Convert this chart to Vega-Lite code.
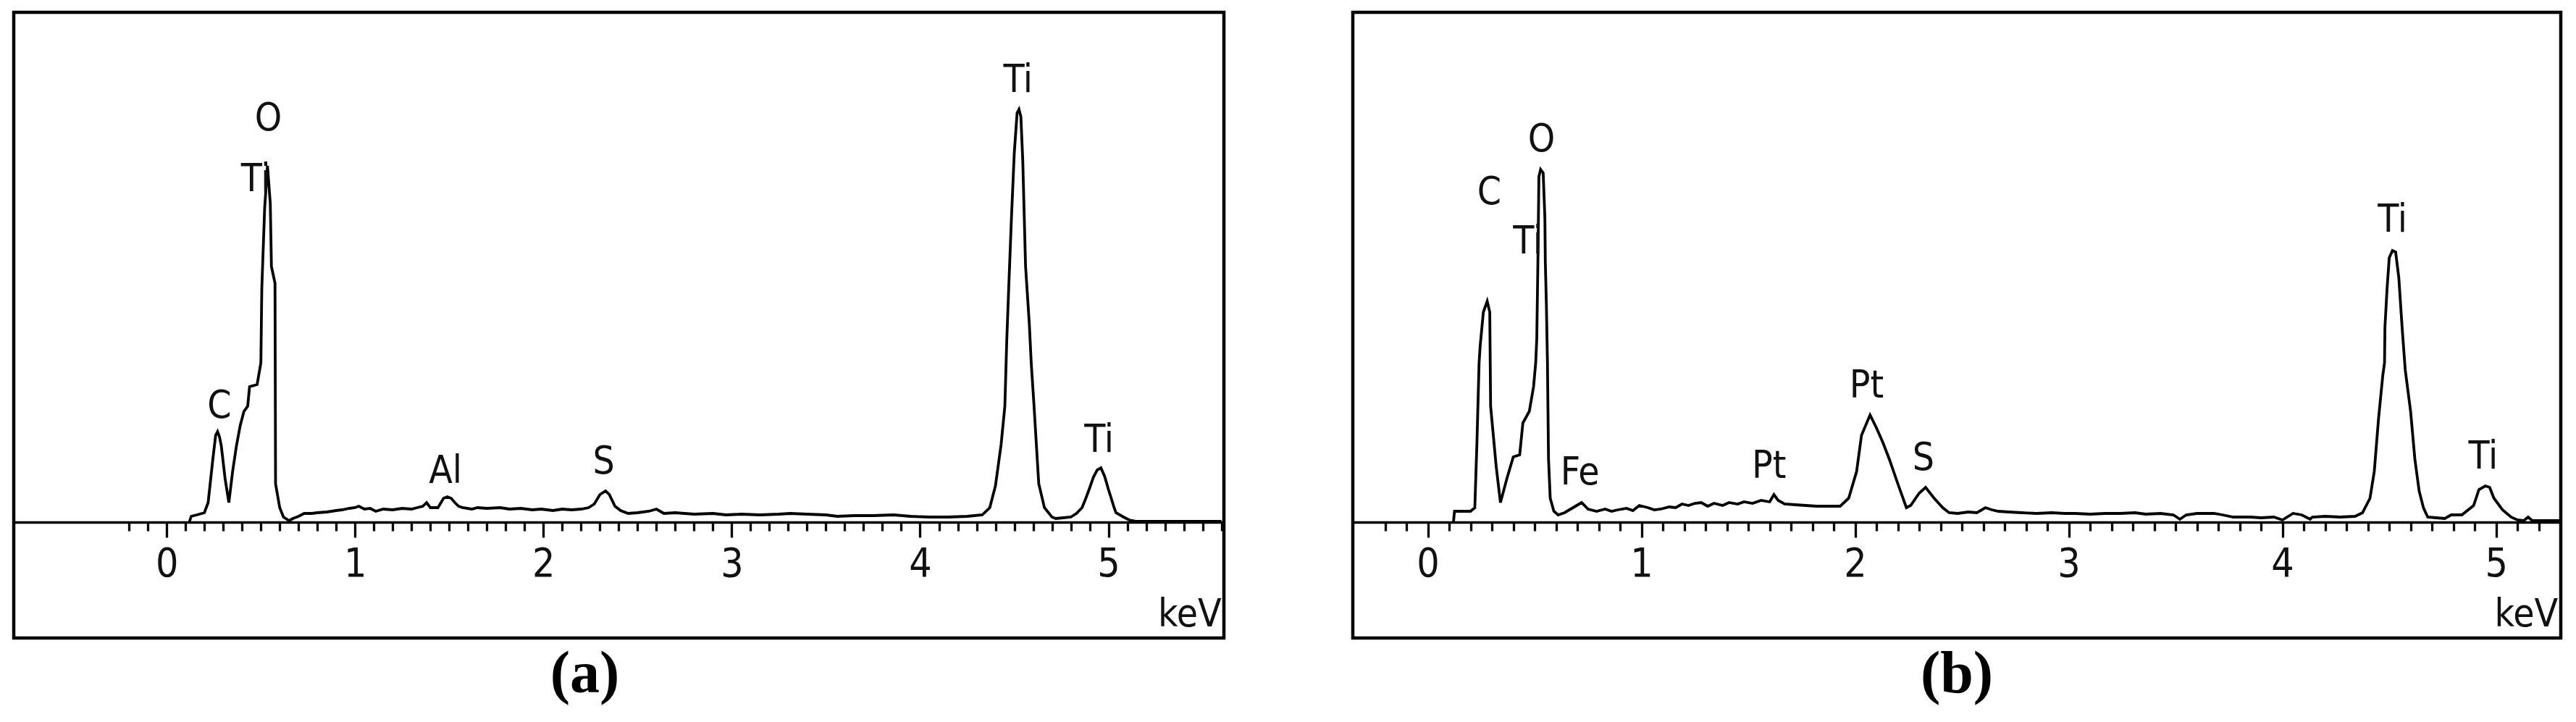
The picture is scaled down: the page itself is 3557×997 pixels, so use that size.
{
  "$schema": "https://vega.github.io/schema/vega-lite/v6.json",
  "background": "white",
  "padding": {"left": 16, "top": 14, "right": 0, "bottom": 0},
  "spacing": 168,
  "config": {
    "view": {"stroke": "#000", "strokeWidth": 4.5},
    "text": {"font": "DejaVu Sans Condensed, Liberation Sans", "fontSize": 53, "color": "#111"}
  },
  "datasets": {
    "specA": [
      {"e":0.12,"c":0},{"e":0.13,"c":8},{"e":0.16,"c":10},{"e":0.2,"c":13},{"e":0.22,"c":27},{"e":0.245,"c":87},{"e":0.26,"c":120},{"e":0.27,"c":125},{"e":0.28,"c":118},{"e":0.29,"c":105},{"e":0.31,"c":60},{"e":0.33,"c":27},{"e":0.35,"c":70},{"e":0.37,"c":105},{"e":0.39,"c":133},{"e":0.41,"c":153},{"e":0.43,"c":160},{"e":0.44,"c":187},{"e":0.48,"c":190},{"e":0.5,"c":220},{"e":0.505,"c":323},{"e":0.52,"c":433},{"e":0.535,"c":492},{"e":0.55,"c":440},{"e":0.556,"c":353},{"e":0.575,"c":330},{"e":0.578,"c":53},{"e":0.6,"c":20},{"e":0.62,"c":7},{"e":0.65,"c":2},{"e":0.67,"c":5},{"e":0.7,"c":8},{"e":0.73,"c":12},{"e":0.77,"c":12},{"e":0.8,"c":13},{"e":0.85,"c":14},{"e":0.9,"c":16},{"e":0.93,"c":17},{"e":0.97,"c":19},{"e":1.0,"c":20},{"e":1.02,"c":22},{"e":1.05,"c":18},{"e":1.08,"c":19},{"e":1.11,"c":15},{"e":1.15,"c":18},{"e":1.2,"c":17},{"e":1.25,"c":19},{"e":1.3,"c":18},{"e":1.33,"c":20},{"e":1.36,"c":22},{"e":1.38,"c":27},{"e":1.4,"c":20},{"e":1.44,"c":20},{"e":1.47,"c":33},{"e":1.49,"c":35},{"e":1.51,"c":33},{"e":1.53,"c":27},{"e":1.55,"c":22},{"e":1.57,"c":20},{"e":1.62,"c":18},{"e":1.65,"c":20},{"e":1.7,"c":19},{"e":1.77,"c":20},{"e":1.82,"c":18},{"e":1.88,"c":19},{"e":1.94,"c":17},{"e":1.99,"c":18},{"e":2.05,"c":16},{"e":2.1,"c":18},{"e":2.15,"c":17},{"e":2.2,"c":18},{"e":2.24,"c":20},{"e":2.27,"c":25},{"e":2.3,"c":38},{"e":2.33,"c":43},{"e":2.35,"c":38},{"e":2.38,"c":22},{"e":2.41,"c":16},{"e":2.45,"c":12},{"e":2.5,"c":13},{"e":2.56,"c":15},{"e":2.6,"c":18},{"e":2.64,"c":12},{"e":2.7,"c":13},{"e":2.8,"c":11},{"e":2.9,"c":12},{"e":2.97,"c":10},{"e":3.05,"c":11},{"e":3.15,"c":10},{"e":3.25,"c":11},{"e":3.31,"c":12},{"e":3.4,"c":11},{"e":3.5,"c":10},{"e":3.56,"c":8},{"e":3.65,"c":9},{"e":3.75,"c":9},{"e":3.86,"c":10},{"e":3.95,"c":8},{"e":4.05,"c":7},{"e":4.15,"c":7},{"e":4.25,"c":8},{"e":4.33,"c":10},{"e":4.37,"c":20},{"e":4.4,"c":50},{"e":4.43,"c":107},{"e":4.45,"c":160},{"e":4.46,"c":250},{"e":4.47,"c":320},{"e":4.485,"c":420},{"e":4.5,"c":510},{"e":4.515,"c":565},{"e":4.525,"c":570},{"e":4.535,"c":560},{"e":4.545,"c":500},{"e":4.56,"c":353},{"e":4.58,"c":273},{"e":4.59,"c":220},{"e":4.605,"c":160},{"e":4.615,"c":117},{"e":4.63,"c":53},{"e":4.66,"c":20},{"e":4.7,"c":7},{"e":4.72,"c":5},{"e":4.76,"c":6},{"e":4.8,"c":7},{"e":4.83,"c":12},{"e":4.86,"c":20},{"e":4.88,"c":33},{"e":4.9,"c":47},{"e":4.92,"c":62},{"e":4.94,"c":72},{"e":4.96,"c":75},{"e":4.98,"c":63},{"e":5.0,"c":45},{"e":5.01,"c":37},{"e":5.03,"c":20},{"e":5.04,"c":13},{"e":5.08,"c":7},{"e":5.11,"c":3},{"e":5.15,"c":1},{"e":5.3,"c":1},{"e":5.45,"c":1},{"e":5.6,"c":1}
    ],
    "specB": [
      {"e":0.12,"c":0},{"e":0.125,"c":15},{"e":0.2,"c":15},{"e":0.22,"c":20},{"e":0.23,"c":110},{"e":0.24,"c":220},{"e":0.245,"c":243},{"e":0.26,"c":290},{"e":0.278,"c":305},{"e":0.29,"c":290},{"e":0.294,"c":160},{"e":0.32,"c":77},{"e":0.34,"c":27},{"e":0.37,"c":60},{"e":0.4,"c":90},{"e":0.43,"c":93},{"e":0.445,"c":137},{"e":0.475,"c":153},{"e":0.495,"c":187},{"e":0.505,"c":220},{"e":0.51,"c":253},{"e":0.515,"c":353},{"e":0.52,"c":477},{"e":0.528,"c":487},{"e":0.54,"c":482},{"e":0.548,"c":420},{"e":0.55,"c":360},{"e":0.555,"c":300},{"e":0.56,"c":220},{"e":0.565,"c":87},{"e":0.573,"c":33},{"e":0.59,"c":15},{"e":0.61,"c":10},{"e":0.64,"c":13},{"e":0.68,"c":20},{"e":0.72,"c":27},{"e":0.75,"c":18},{"e":0.79,"c":15},{"e":0.83,"c":18},{"e":0.86,"c":15},{"e":0.89,"c":17},{"e":0.93,"c":19},{"e":0.96,"c":16},{"e":0.99,"c":23},{"e":1.03,"c":20},{"e":1.06,"c":17},{"e":1.09,"c":18},{"e":1.13,"c":21},{"e":1.16,"c":20},{"e":1.19,"c":25},{"e":1.22,"c":23},{"e":1.25,"c":26},{"e":1.28,"c":27},{"e":1.31,"c":22},{"e":1.34,"c":26},{"e":1.38,"c":23},{"e":1.41,"c":27},{"e":1.45,"c":25},{"e":1.48,"c":28},{"e":1.52,"c":26},{"e":1.56,"c":30},{"e":1.6,"c":28},{"e":1.62,"c":38},{"e":1.64,"c":30},{"e":1.67,"c":25},{"e":1.72,"c":24},{"e":1.77,"c":23},{"e":1.82,"c":22},{"e":1.87,"c":22},{"e":1.93,"c":22},{"e":1.97,"c":33},{"e":2.007,"c":70},{"e":2.03,"c":120},{"e":2.07,"c":148},{"e":2.1,"c":130},{"e":2.13,"c":110},{"e":2.16,"c":87},{"e":2.2,"c":53},{"e":2.24,"c":20},{"e":2.26,"c":23},{"e":2.3,"c":40},{"e":2.33,"c":48},{"e":2.37,"c":33},{"e":2.41,"c":20},{"e":2.44,"c":13},{"e":2.48,"c":12},{"e":2.53,"c":14},{"e":2.57,"c":13},{"e":2.61,"c":20},{"e":2.64,"c":17},{"e":2.67,"c":15},{"e":2.72,"c":14},{"e":2.78,"c":13},{"e":2.85,"c":12},{"e":2.92,"c":13},{"e":2.98,"c":12},{"e":3.03,"c":12},{"e":3.1,"c":11},{"e":3.17,"c":12},{"e":3.24,"c":12},{"e":3.31,"c":13},{"e":3.36,"c":11},{"e":3.43,"c":12},{"e":3.49,"c":10},{"e":3.52,"c":4},{"e":3.55,"c":10},{"e":3.6,"c":12},{"e":3.68,"c":12},{"e":3.72,"c":10},{"e":3.77,"c":7},{"e":3.85,"c":7},{"e":3.9,"c":6},{"e":3.96,"c":7},{"e":4.0,"c":3},{"e":4.05,"c":12},{"e":4.09,"c":10},{"e":4.13,"c":4},{"e":4.14,"c":7},{"e":4.2,"c":8},{"e":4.27,"c":7},{"e":4.34,"c":8},{"e":4.375,"c":13},{"e":4.41,"c":33},{"e":4.43,"c":70},{"e":4.45,"c":143},{"e":4.47,"c":203},{"e":4.478,"c":220},{"e":4.48,"c":270},{"e":4.49,"c":323},{"e":4.5,"c":365},{"e":4.515,"c":375},{"e":4.53,"c":373},{"e":4.545,"c":337},{"e":4.56,"c":270},{"e":4.575,"c":210},{"e":4.6,"c":153},{"e":4.62,"c":87},{"e":4.64,"c":43},{"e":4.66,"c":20},{"e":4.68,"c":7},{"e":4.72,"c":6},{"e":4.76,"c":5},{"e":4.79,"c":10},{"e":4.84,"c":10},{"e":4.895,"c":23},{"e":4.92,"c":45},{"e":4.95,"c":50},{"e":4.97,"c":48},{"e":4.99,"c":33},{"e":5.03,"c":17},{"e":5.07,"c":7},{"e":5.1,"c":3},{"e":5.13,"c":2},{"e":5.15,"c":7},{"e":5.17,"c":2},{"e":5.2,"c":2},{"e":5.3,"c":2}
    ],
    "labA": [
      {"e":0.54,"c":557,"t":"O"},{"e":0.473,"c":473,"t":"Ti"},{"e":0.28,"c":160,"t":"C"},{"e":1.48,"c":70,"t":"Al"},{"e":2.32,"c":83,"t":"S"},{"e":4.52,"c":610,"t":"Ti"},{"e":4.95,"c":113,"t":"Ti"}
    ],
    "labB": [
      {"e":0.532,"c":528,"t":"O"},{"e":0.468,"c":387,"t":"Ti"},{"e":0.288,"c":455,"t":"C"},{"e":0.712,"c":68,"t":"Fe"},{"e":1.597,"c":77,"t":"Pt"},{"e":2.054,"c":188,"t":"Pt"},{"e":2.32,"c":88,"t":"S"},{"e":4.515,"c":417,"t":"Ti"},{"e":4.94,"c":90,"t":"Ti"}
    ],
    "unitA": [{"e":5.6,"c":-128,"t":"keV"}],
    "unitB": [{"e":5.29,"c":-128,"t":"keV"}]
  },
  "hconcat": [
    {
      "width": 1671,
      "height": 864,
      "title": {"text": "(a)", "orient": "bottom", "anchor": "middle", "dx": -47, "offset": 10, "font": "Liberation Serif", "fontSize": 82, "fontWeight": "bold", "color": "#000"},
      "encoding": {
        "x": {"field": "e", "type": "quantitative",
          "scale": {"domain": [-0.812, 5.613], "nice": false, "zero": false},
          "axis": {"title": null, "orient": "bottom", "offset": -160, "grid": false,
            "values": [-0.2,-0.1,0,0.1,0.2,0.3,0.4,0.5,0.6,0.7,0.8,0.9,1,1.1,1.2,1.3,1.4,1.5,1.6,1.7,1.8,1.9,2,2.1,2.2,2.3,2.4,2.5,2.6,2.7,2.8,2.9,3,3.1,3.2,3.3,3.4,3.5,3.6,3.7,3.8,3.9,4,4.1,4.2,4.3,4.4,4.5,4.6,4.7,4.8,4.9,5,5.1,5.2,5.3,5.4,5.5,5.6],
            "labelExpr": "abs(datum.value - round(datum.value)) < 0.001 ? format(datum.value, 'd') : ''",
            "tickSize": {"condition": {"test": "abs(datum.value - round(datum.value)) < 0.001", "value": 21}, "value": 12},
            "tickWidth": 3.3, "tickColor": "#000", "domainColor": "#000", "domainWidth": 3.5,
            "labelFont": "DejaVu Sans Condensed, Liberation Sans", "labelFontSize": 55, "labelColor": "#111",
            "labelPadding": 10, "labelOverlap": false, "labelFlush": false, "labelBound": false}},
        "y": {"field": "c", "type": "quantitative", "scale": {"domain": [-160, 704], "nice": false, "zero": false}, "axis": null}
      },
      "layer": [
        {"data": {"name": "specA"}, "mark": {"type": "line", "color": "#000", "strokeWidth": 3.8, "strokeJoin": "miter"}},
        {"data": {"name": "labA"}, "mark": {"type": "text", "align": "center", "baseline": "middle"}, "encoding": {"text": {"field": "t"}}},
        {"data": {"name": "unitA"}, "mark": {"type": "text", "align": "right", "baseline": "middle"}, "encoding": {"text": {"field": "t"}}}
      ]
    },
    {
      "width": 1668,
      "height": 864,
      "title": {"text": "(b)", "orient": "bottom", "anchor": "middle", "offset": 10, "font": "Liberation Serif", "fontSize": 82, "fontWeight": "bold", "color": "#000"},
      "encoding": {
        "x": {"field": "e", "type": "quantitative",
          "scale": {"domain": [-0.351, 5.303], "nice": false, "zero": false},
          "axis": {"title": null, "orient": "bottom", "offset": -160, "grid": false,
            "values": [-0.2,-0.1,0,0.1,0.2,0.3,0.4,0.5,0.6,0.7,0.8,0.9,1,1.1,1.2,1.3,1.4,1.5,1.6,1.7,1.8,1.9,2,2.1,2.2,2.3,2.4,2.5,2.6,2.7,2.8,2.9,3,3.1,3.2,3.3,3.4,3.5,3.6,3.7,3.8,3.9,4,4.1,4.2,4.3,4.4,4.5,4.6,4.7,4.8,4.9,5,5.1,5.2],
            "labelExpr": "abs(datum.value - round(datum.value)) < 0.001 ? format(datum.value, 'd') : ''",
            "tickSize": {"condition": {"test": "abs(datum.value - round(datum.value)) < 0.001", "value": 21}, "value": 12},
            "tickWidth": 3.3, "tickColor": "#000", "domainColor": "#000", "domainWidth": 3.5,
            "labelFont": "DejaVu Sans Condensed, Liberation Sans", "labelFontSize": 55, "labelColor": "#111",
            "labelPadding": 10, "labelOverlap": false, "labelFlush": false, "labelBound": false}},
        "y": {"field": "c", "type": "quantitative", "scale": {"domain": [-160, 704], "nice": false, "zero": false}, "axis": null}
      },
      "layer": [
        {"data": {"name": "specB"}, "mark": {"type": "line", "color": "#000", "strokeWidth": 3.8, "strokeJoin": "miter"}},
        {"data": {"name": "labB"}, "mark": {"type": "text", "align": "center", "baseline": "middle"}, "encoding": {"text": {"field": "t"}}},
        {"data": {"name": "unitB"}, "mark": {"type": "text", "align": "right", "baseline": "middle"}, "encoding": {"text": {"field": "t"}}}
      ]
    }
  ]
}
